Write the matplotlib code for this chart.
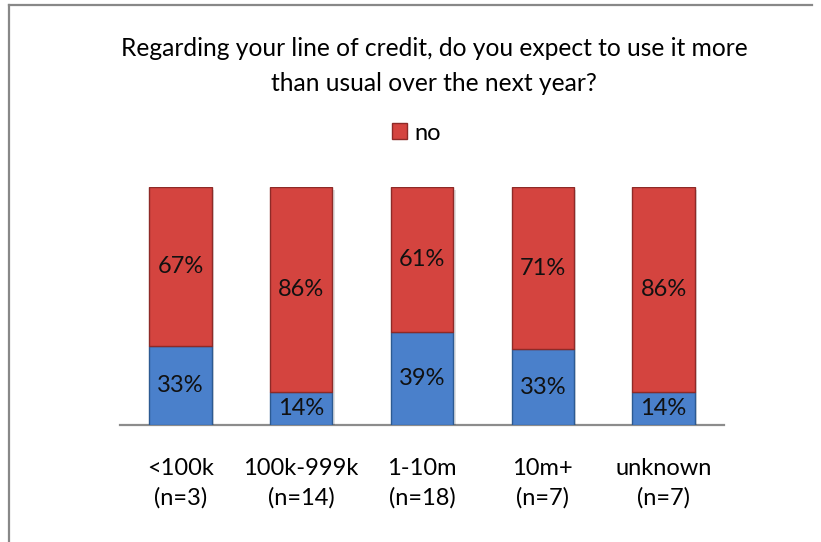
import numpy as np
import matplotlib.pyplot as plt
from matplotlib.lines import Line2D
from matplotlib.patches import Patch

plt.rcParams['font.family'] = ['Lato', 'DejaVu Sans']

categories = ['<100k\n(n=3)', '100k-999k\n(n=14)', '1-10m\n(n=18)', '10m+\n(n=7)', 'unknown\n(n=7)']
yes_pct = [33, 14, 39, 33, 14]
no_pct = [67, 86, 61, 71, 86]
title = 'Regarding your line of credit, do you expect to use it more\nthan usual over the next year?'

W, H = 821, 542
fig = plt.figure(figsize=(W / 100, H / 100), dpi=100)
ax = fig.add_axes([120 / W, (H - 425) / H, (724 - 120) / W, (425 - 187) / H])

x = np.arange(len(categories))
yes = np.array(yes_pct, dtype=float)
no = np.array(no_pct, dtype=float)
total = yes + no
yes_f = yes / total
no_f = no / total

red = '#D4443F'
blue = '#4A80CB'
width = 0.515

# soft shadow under the bars
ax.bar(x + 0.02, np.ones(len(x)), width=width, bottom=-0.012, color='#000000', alpha=0.12, zorder=1)
ax.bar(x, yes_f, width=width, color=blue, edgecolor='#2C5A92', linewidth=1.0, zorder=2)
ax.bar(x, no_f, width=width, bottom=yes_f, color=red, edgecolor='#8E2A27', linewidth=1.0, zorder=2)

for i in range(len(x)):
    ax.text(x[i], yes_f[i] / 2, '%d%%' % yes_pct[i], ha='center', va='center', fontsize=17, color='#111111', zorder=3)
    ax.text(x[i], yes_f[i] + no_f[i] / 2, '%d%%' % no_pct[i], ha='center', va='center', fontsize=17, color='#111111', zorder=3)

ax.set_xlim(-0.5, len(x) - 0.5)
ax.set_ylim(0, 1)
ax.set_yticks([])
ax.set_xticks(x)
ax.set_xticklabels(categories, fontsize=17, linespacing=1.45)
ax.tick_params(axis='x', length=0, pad=24)
for s in ['top', 'right', 'left']:
    ax.spines[s].set_visible(False)
ax.spines['bottom'].set_color('#8C8C8C')
ax.spines['bottom'].set_linewidth(1.6)
ax.spines['bottom'].set_zorder(0)

fig.text(0.5 * (120 + 748) / W, 1 - 66 / H, title, ha='center', va='center', fontsize=17.7, linespacing=1.6)

handle = Patch(facecolor=red, edgecolor='#8E2A27')
fig.legend([handle], ['no'], loc='center', bbox_to_anchor=(416 / W, 1 - 133 / H), frameon=False,
           fontsize=17, handlelength=0.65, handleheight=0.65, handletextpad=0.3)

# chart frame (left and top edges)
fig.add_artist(Line2D([9 / W, 9 / W], [0, 1 - 5 / H], color='#888888', lw=1.6))
fig.add_artist(Line2D([9 / W, 812 / W], [1 - 5 / H, 1 - 5 / H], color='#888888', lw=1.6))

fig.savefig('out.png', dpi=100)
